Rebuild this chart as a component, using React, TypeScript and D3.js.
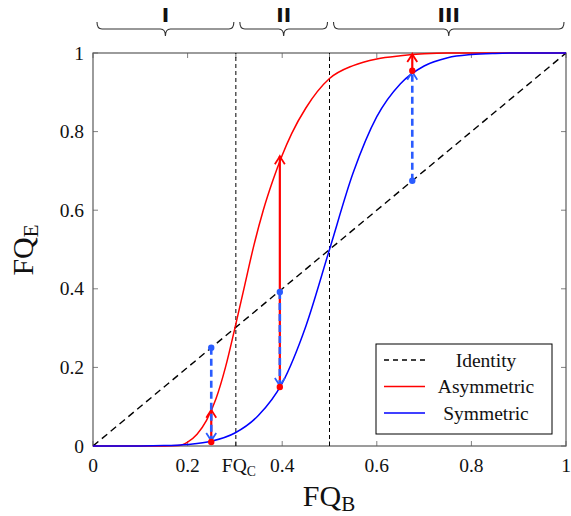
import React from "react";
import * as d3 from "d3";

// ---------- data ----------
const xTicks = [0, 0.2, 0.4, 0.6, 0.8, 1];
const xTickLabels = ["0", "0.2", "0.4", "0.6", "0.8", "1"];
const yTicks = [0, 0.2, 0.4, 0.6, 0.8, 1];
const yTickLabels = ["0", "0.2", "0.4", "0.6", "0.8", "1"];
const fqC = 0.302;
const midLine = 0.5;
const regionBounds = [0, 0.302, 0.5, 1];
const regionLabels = ["I", "II", "III"];

const identityX = [0, 1];
const identityY = [0, 1];

const symX = [0, 0.1, 0.15, 0.2, 0.25, 0.3, 0.35, 0.4, 0.45, 0.5, 0.55, 0.6, 0.65, 0.7, 0.75, 0.8, 0.85, 0.9, 1];
const symY = [0, 0.0002, 0.001, 0.004, 0.012, 0.033, 0.078, 0.16, 0.305, 0.5, 0.695, 0.838, 0.922, 0.967, 0.988, 0.996, 0.999, 1, 1];

const asymX = [0, 0.15, 0.18, 0.2, 0.22, 0.24, 0.26, 0.28, 0.3, 0.32, 0.34, 0.36, 0.38, 0.4, 0.42, 0.45, 0.5, 0.55, 0.6, 0.65, 0.7, 0.75, 1];
const asymY = [0, 0, 0.001, 0.01, 0.03, 0.065, 0.12, 0.2, 0.3, 0.405, 0.51, 0.6, 0.675, 0.74, 0.795, 0.86, 0.935, 0.968, 0.985, 0.993, 0.998, 1, 1];

const probeX = [0.25, 0.395, 0.675];
const probeIdentity = [0.25, 0.392, 0.675];
const probeSym = [0.01, 0.15, 0.955];
const probeAsym = [0.095, 0.74, 1.0];

const legendLabels = ["Identity", "Asymmetric", "Symmetric"];

// ---------- layout ----------
const W = 571;
const H = 516;
const X0 = 93, X1 = 566, Y0 = 446, Y1 = 53;
const SERIF = "'Liberation Serif', 'DejaVu Serif', serif";
const RED = "#ff0000";
const BLUE = "#0000ff";
const LBLUE = "#2a5cff";

function Sub({ main, sub, size }: { main: string; sub: string; size: number }) {
  return (
    <>
      {main}
      <tspan fontSize={size * 0.7} dy={size * 0.18}>{sub}</tspan>
    </>
  );
}

export default function App() {
  const x = d3.scaleLinear().domain([0, 1]).range([X0, X1]);
  const y = d3.scaleLinear().domain([0, 1]).range([Y0, Y1]);
  const line = d3
    .line<[number, number]>()
    .x((d) => x(d[0]))
    .y((d) => y(d[1]))
    .curve(d3.curveMonotoneX);

  const symPts = symX.map((v, i) => [v, symY[i]] as [number, number]);
  const asymPts = asymX.map((v, i) => [v, asymY[i]] as [number, number]);
  const idPts = identityX.map((v, i) => [v, identityY[i]] as [number, number]);

  const tickColor = "#808080";
  const frameColor = "#5a5a5a";

  const brace = (a: number, b: number) => {
    const x0 = x(a) + 4, x1 = x(b) - 2;
    const m = (x0 + x1) / 2;
    const yt = 22, yl = 29, yb = 36;
    return `M${x0},${yt} Q${x0},${yl} ${x0 + 5},${yl} L${m - 5},${yl} Q${m},${yl} ${m},${yb} Q${m},${yl} ${m + 5},${yl} L${x1 - 5},${yl} Q${x1},${yl} ${x1},${yt}`;
  };

  return (
    <svg
      width={W}
      height={H}
      viewBox={`0 0 ${W} ${H}`}
      style={{ position: "absolute", left: 0, top: 0, background: "#fff" }}
    >
      <defs>
        <clipPath id="plotclip">
          <rect x={X0} y={Y1 - 2} width={X1 - X0} height={Y0 - Y1 + 4} />
        </clipPath>
        <marker id="arrRed" viewBox="-10 -6 12 12" refX={0} refY={0} markerWidth={12} markerHeight={12} markerUnits="userSpaceOnUse" orient="auto">
          <path d="M-8,-5 Q-2,-1 0,0 Q-2,1 -8,5" fill="none" stroke={RED} strokeWidth={1.8} />
        </marker>
        <marker id="arrBlue" viewBox="-10 -6 12 12" refX={0} refY={0} markerWidth={12} markerHeight={12} markerUnits="userSpaceOnUse" orient="auto">
          <path d="M-8,-5 Q-2,-1 0,0 Q-2,1 -8,5" fill="none" stroke={LBLUE} strokeWidth={1.8} />
        </marker>
      </defs>

      {/* region braces */}
      {regionLabels.map((lab, i) => {
        const a = regionBounds[i], b = regionBounds[i + 1];
        return (
          <g key={lab}>
            <path d={brace(a, b)} fill="none" stroke="#333" strokeWidth={1.1} />
            <text
              x={(x(a) + x(b)) / 2 + 1}
              y={22}
              textAnchor="middle"
              fontFamily="'DejaVu Sans', sans-serif"
              fontWeight="bold"
              fontSize={20}
              fill="#111"
            >
              {lab}
            </text>
          </g>
        );
      })}

      {/* ticks */}
      {[...xTicks, fqC, midLine].map((t, i) => (
        <g key={"xt" + i} stroke={tickColor} strokeWidth={1}>
          <line x1={x(t)} x2={x(t)} y1={Y0} y2={Y0 - 5} />
          <line x1={x(t)} x2={x(t)} y1={Y1} y2={Y1 + 5} />
        </g>
      ))}
      {yTicks.map((t, i) => (
        <g key={"yt" + i} stroke={tickColor} strokeWidth={1}>
          <line x1={X0} x2={X0 + 5} y1={y(t)} y2={y(t)} />
          <line x1={X1} x2={X1 - 5} y1={y(t)} y2={y(t)} />
        </g>
      ))}

      {/* frame */}
      <rect x={X0} y={Y1} width={X1 - X0} height={Y0 - Y1} fill="none" stroke={frameColor} strokeWidth={1.2} />

      {/* tick labels */}
      {xTicks.map((t, i) => (
        <text key={"xl" + i} x={x(t)} y={Y0 + 26} textAnchor="middle" fontFamily={SERIF} fontSize={19.5} fill="#111">
          {xTickLabels[i]}
        </text>
      ))}
      <text x={x(fqC) + 3} y={Y0 + 26} textAnchor="middle" fontFamily={SERIF} fontSize={19.5} fill="#111">
        <Sub main="FQ" sub="C" size={19.5} />
      </text>
      {yTicks.map((t, i) => (
        <text key={"yl" + i} x={X0 - 9} y={y(t) + 6.5} textAnchor="end" fontFamily={SERIF} fontSize={19.5} fill="#111">
          {yTickLabels[i]}
        </text>
      ))}

      {/* axis labels */}
      <text x={329} y={506} textAnchor="middle" fontFamily={SERIF} fontSize={30} fill="#111">
        <Sub main="FQ" sub="B" size={30} />
      </text>
      <text transform="translate(33,250) rotate(-90)" textAnchor="middle" fontFamily={SERIF} fontSize={30} fill="#111">
        <Sub main="FQ" sub="E" size={30} />
      </text>

      <g clipPath="url(#plotclip)">
        {/* vertical dashed */}
        {[fqC, midLine].map((v, i) => (
          <line key={"v" + i} x1={x(v)} x2={x(v)} y1={Y0} y2={Y1} stroke="#000" strokeWidth={1} strokeDasharray="4,3" />
        ))}
        {/* identity */}
        <path d={line(idPts) || ""} fill="none" stroke="#000" strokeWidth={1.4} strokeDasharray="7,4.5" />
        {/* curves */}
        <path d={line(asymPts) || ""} fill="none" stroke={RED} strokeWidth={1.5} />
        <path d={line(symPts) || ""} fill="none" stroke={BLUE} strokeWidth={1.5} />
      </g>

      {/* red arrows */}
      {probeX.map((px, i) => (
        <line
          key={"ra" + i}
          x1={x(px)}
          x2={x(px)}
          y1={y(probeSym[i])}
          y2={y(probeAsym[i]) + (probeAsym[i] > probeSym[i] ? 1 : -1)}
          stroke={RED}
          strokeWidth={2.2}
          markerEnd="url(#arrRed)"
        />
      ))}
      {/* blue dashed arrows */}
      {probeX.map((px, i) => (
        <line
          key={"ba" + i}
          x1={x(px)}
          x2={x(px)}
          y1={y(probeIdentity[i])}
          y2={y(probeSym[i]) + (probeSym[i] > probeIdentity[i] ? 1 : -1)}
          stroke={LBLUE}
          strokeWidth={2.6}
          strokeDasharray="7,4"
          markerEnd="url(#arrBlue)"
        />
      ))}
      {/* dots */}
      {probeX.map((px, i) => (
        <g key={"d" + i}>
          <circle cx={x(px)} cy={y(probeSym[i])} r={3.2} fill={RED} />
          <circle cx={x(px)} cy={y(probeIdentity[i])} r={3.2} fill={LBLUE} />
        </g>
      ))}

      {/* legend */}
      <g>
        <rect x={376} y={344} width={176} height={90} fill="#fff" stroke="#000" strokeWidth={1} />
        {legendLabels.map((lab, i) => {
          const ly = 360 + i * 26.5;
          const color = i === 0 ? "#000" : i === 1 ? RED : BLUE;
          return (
            <g key={lab}>
              <line
                x1={384}
                x2={425}
                y1={ly}
                y2={ly}
                stroke={color}
                strokeWidth={1.4}
                strokeDasharray={i === 0 ? "5,4" : undefined}
              />
              <text x={486} y={ly + 6.5} textAnchor="middle" fontFamily={SERIF} fontSize={19.5} fill="#111">
                {lab}
              </text>
            </g>
          );
        })}
      </g>
    </svg>
  );
}
